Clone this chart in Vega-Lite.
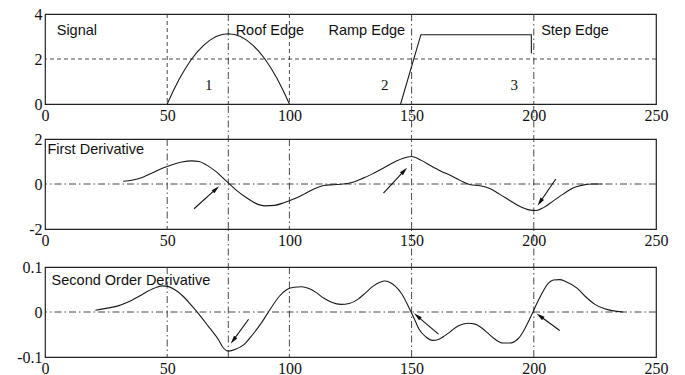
{
  "$schema": "https://vega.github.io/schema/vega-lite/v6.json",
  "background": "white",
  "padding": {"left": 16, "top": 5, "right": 5, "bottom": 2},
  "bounds": "flush",
  "spacing": 35,
  "config": {
    "font": "Liberation Serif",
    "view": {"stroke": "#222", "strokeWidth": 1.2},
    "axis": {"grid": false, "ticks": false, "domain": false, "labelFont": "Liberation Serif", "labelFontSize": 16, "labelColor": "#111", "labelPadding": 3, "labelFlush": false, "labelOverlap": false},
    "line": {"color": "#1a1a1a", "strokeWidth": 1.1},
    "rule": {"color": "#333", "strokeWidth": 0.9}
  },
  "vconcat": [
    {
      "width": 611,
      "height": 90,
      "layer": [
        {
          "data": {"values": [{"x": 50}, {"x": 100}]},
          "mark": {"type": "rule", "strokeDash": [4, 3]},
          "encoding": {
            "x": {"field": "x", "type": "quantitative", "scale": {"domain": [0, 250], "nice": false}, "axis": {"values": [0, 50, 100, 150, 200, 250]}, "title": null}
          }
        },
        {
          "data": {"values": [{"y": 2}]},
          "mark": {"type": "rule", "strokeDash": [4, 3]},
          "encoding": {
            "y": {"field": "y", "type": "quantitative", "scale": {"domain": [0, 4], "nice": false, "zero": false}, "axis": {"values": [0, 2, 4]}, "title": null}
          }
        },
        {
          "data": {"values": [{"x": 75}, {"x": 150}, {"x": 200}]},
          "mark": {"type": "rule", "strokeDash": [7, 3, 1.5, 3]},
          "encoding": {
            "x": {"field": "x", "type": "quantitative", "scale": {"domain": [0, 250], "nice": false}, "axis": {"values": [0, 50, 100, 150, 200, 250]}, "title": null}
          }
        },
        {
          "data": {"values": [
            {"seg": "roof", "k": 1, "x": 50, "y": 0},
            {"seg": "roof", "k": 2, "x": 52.5, "y": 0.59},
            {"seg": "roof", "k": 3, "x": 55, "y": 1.12},
            {"seg": "roof", "k": 4, "x": 57.5, "y": 1.59},
            {"seg": "roof", "k": 5, "x": 60, "y": 2.0},
            {"seg": "roof", "k": 6, "x": 62.5, "y": 2.34},
            {"seg": "roof", "k": 7, "x": 65, "y": 2.62},
            {"seg": "roof", "k": 8, "x": 67.5, "y": 2.84},
            {"seg": "roof", "k": 9, "x": 70, "y": 3.0},
            {"seg": "roof", "k": 10, "x": 72.5, "y": 3.09},
            {"seg": "roof", "k": 11, "x": 75, "y": 3.12},
            {"seg": "roof", "k": 12, "x": 77.5, "y": 3.09},
            {"seg": "roof", "k": 13, "x": 80, "y": 3.0},
            {"seg": "roof", "k": 14, "x": 82.5, "y": 2.84},
            {"seg": "roof", "k": 15, "x": 85, "y": 2.62},
            {"seg": "roof", "k": 16, "x": 87.5, "y": 2.34},
            {"seg": "roof", "k": 17, "x": 90, "y": 2.0},
            {"seg": "roof", "k": 18, "x": 92.5, "y": 1.59},
            {"seg": "roof", "k": 19, "x": 95, "y": 1.12},
            {"seg": "roof", "k": 20, "x": 97.5, "y": 0.59},
            {"seg": "roof", "k": 21, "x": 100, "y": 0},
            {"seg": "ramp", "k": 22, "x": 145.5, "y": 0},
            {"seg": "ramp", "k": 23, "x": 153.8, "y": 3.08},
            {"seg": "ramp", "k": 24, "x": 199, "y": 3.08},
            {"seg": "ramp", "k": 25, "x": 199, "y": 2.25}
          ]},
          "mark": {"type": "line", "interpolate": "linear"},
          "encoding": {
            "x": {"field": "x", "type": "quantitative", "scale": {"domain": [0, 250], "nice": false}, "axis": {"values": [0, 50, 100, 150, 200, 250]}, "title": null},
            "y": {"field": "y", "type": "quantitative", "scale": {"domain": [0, 4], "nice": false, "zero": false}, "axis": {"values": [0, 2, 4]}, "title": null},
            "detail": {"field": "seg"},
            "order": {"field": "k", "type": "quantitative"}
          }
        },
        {
          "data": {"values": [
            {"x": 4.8, "y": 3.08, "label": "Signal"},
            {"x": 78, "y": 3.08, "label": "Roof Edge"},
            {"x": 116, "y": 3.08, "label": "Ramp Edge"},
            {"x": 203, "y": 3.08, "label": "Step Edge"}
          ]},
          "mark": {"type": "text", "align": "left", "baseline": "alphabetic", "font": "Liberation Sans", "fontSize": 14.5, "color": "#111"},
          "encoding": {
            "x": {"field": "x", "type": "quantitative", "scale": {"domain": [0, 250], "nice": false}, "axis": {"values": [0, 50, 100, 150, 200, 250]}, "title": null},
            "y": {"field": "y", "type": "quantitative", "scale": {"domain": [0, 4], "nice": false, "zero": false}, "axis": {"values": [0, 2, 4]}, "title": null},
            "text": {"field": "label"}
          }
        },
        {
          "data": {"values": [
            {"x": 67, "y": 0.85, "label": "1"},
            {"x": 139, "y": 0.85, "label": "2"},
            {"x": 192, "y": 0.85, "label": "3"}
          ]},
          "mark": {"type": "text", "align": "center", "baseline": "middle", "font": "Liberation Serif", "fontSize": 15, "color": "#111"},
          "encoding": {
            "x": {"field": "x", "type": "quantitative", "scale": {"domain": [0, 250], "nice": false}, "axis": {"values": [0, 50, 100, 150, 200, 250]}, "title": null},
            "y": {"field": "y", "type": "quantitative", "scale": {"domain": [0, 4], "nice": false, "zero": false}, "axis": {"values": [0, 2, 4]}, "title": null},
            "text": {"field": "label"}
          }
        }
      ]
    },
    {
      "bounds": "flush",
      "spacing": 38,
      "vconcat": [
        {
          "width": 611,
          "height": 90,
          "layer": [
            {
              "data": {"values": [{"x": 50}, {"x": 100}]},
              "mark": {"type": "rule", "strokeDash": [7, 3, 1.5, 3]},
              "encoding": {
                "x": {"field": "x", "type": "quantitative", "scale": {"domain": [0, 250], "nice": false}, "axis": {"values": [0, 50, 100, 150, 200, 250]}, "title": null}
              }
            },
            {
              "data": {"values": [{"y": 0}]},
              "mark": {"type": "rule", "strokeDash": [7, 3, 1.5, 3]},
              "encoding": {
                "y": {"field": "y", "type": "quantitative", "scale": {"domain": [-2, 2], "nice": false, "zero": false}, "axis": {"values": [-2, 0, 2], "labelExpr": "'' + datum.value"}, "title": null}
              }
            },
            {
              "data": {"values": [{"x": 75, "y": -2, "y2": 3.56}, {"x": 150, "y": -2, "y2": 3.56}, {"x": 200, "y": -2, "y2": 3.56}]},
              "mark": {"type": "rule", "strokeDash": [7, 3, 1.5, 3]},
              "encoding": {
                "x": {"field": "x", "type": "quantitative", "scale": {"domain": [0, 250], "nice": false}, "axis": {"values": [0, 50, 100, 150, 200, 250]}, "title": null},
                "y": {"field": "y", "type": "quantitative", "scale": {"domain": [-2, 2], "nice": false, "zero": false}, "axis": {"values": [-2, 0, 2], "labelExpr": "'' + datum.value"}, "title": null},
                "y2": {"field": "y2"}
              }
            },
            {
              "data": {"values": [
                {"x": 32, "y": 0.12}, {"x": 36, "y": 0.18}, {"x": 40, "y": 0.3}, {"x": 44, "y": 0.5},
                {"x": 48, "y": 0.7}, {"x": 52, "y": 0.86}, {"x": 56, "y": 0.98}, {"x": 60, "y": 1.03},
                {"x": 63, "y": 1.0}, {"x": 66, "y": 0.85}, {"x": 70, "y": 0.55}, {"x": 74, "y": 0.15},
                {"x": 78, "y": -0.25}, {"x": 82, "y": -0.58}, {"x": 86, "y": -0.85}, {"x": 90, "y": -0.97},
                {"x": 94, "y": -0.95}, {"x": 98, "y": -0.82}, {"x": 102, "y": -0.66}, {"x": 106, "y": -0.45},
                {"x": 110, "y": -0.22}, {"x": 114, "y": -0.07}, {"x": 118, "y": -0.03}, {"x": 122, "y": 0.0},
                {"x": 126, "y": 0.08}, {"x": 130, "y": 0.25}, {"x": 134, "y": 0.45}, {"x": 138, "y": 0.68},
                {"x": 142, "y": 0.92}, {"x": 146, "y": 1.12}, {"x": 150, "y": 1.22}, {"x": 154, "y": 1.05},
                {"x": 158, "y": 0.8}, {"x": 162, "y": 0.57}, {"x": 166, "y": 0.38}, {"x": 170, "y": 0.15},
                {"x": 174, "y": -0.03}, {"x": 178, "y": -0.08}, {"x": 182, "y": -0.2}, {"x": 186, "y": -0.45},
                {"x": 190, "y": -0.72}, {"x": 194, "y": -0.98}, {"x": 198, "y": -1.15}, {"x": 201, "y": -1.18},
                {"x": 204, "y": -1.05}, {"x": 208, "y": -0.75}, {"x": 212, "y": -0.45}, {"x": 216, "y": -0.18},
                {"x": 220, "y": -0.05}, {"x": 224, "y": 0.0}, {"x": 228, "y": 0.0}
              ]},
              "mark": {"type": "line", "interpolate": "monotone"},
              "encoding": {
                "x": {"field": "x", "type": "quantitative", "scale": {"domain": [0, 250], "nice": false}, "axis": {"values": [0, 50, 100, 150, 200, 250]}, "title": null},
                "y": {"field": "y", "type": "quantitative", "scale": {"domain": [-2, 2], "nice": false, "zero": false}, "axis": {"values": [-2, 0, 2], "labelExpr": "'' + datum.value"}, "title": null}
              }
            },
            {
              "data": {"values": [
                {"x0": 61, "y0": -1.1, "x": 70, "y": -0.22},
                {"x0": 138.5, "y0": -0.41, "x": 147, "y": 0.59},
                {"x0": 209, "y0": 0.22, "x": 202.5, "y": -0.81}
              ]},
              "mark": {"type": "rule", "color": "#111", "strokeWidth": 1.1},
              "encoding": {
                "x": {"field": "x0", "type": "quantitative", "scale": {"domain": [0, 250], "nice": false}, "axis": {"values": [0, 50, 100, 150, 200, 250]}, "title": null},
                "y": {"field": "y0", "type": "quantitative", "scale": {"domain": [-2, 2], "nice": false, "zero": false}, "axis": {"values": [-2, 0, 2], "labelExpr": "'' + datum.value"}, "title": null},
                "x2": {"field": "x"},
                "y2": {"field": "y"}
              }
            },
            {
              "data": {"values": [
                {"x": 70, "y": -0.22, "heading": 48},
                {"x": 147, "y": 0.59, "heading": 43},
                {"x": 202.5, "y": -0.81, "heading": 214}
              ]},
              "mark": {"type": "point", "shape": "M0,-1L0.5,1L-0.5,1Z", "filled": true, "fill": "#111", "stroke": null, "size": 70, "opacity": 1},
              "encoding": {
                "x": {"field": "x", "type": "quantitative", "scale": {"domain": [0, 250], "nice": false}, "axis": {"values": [0, 50, 100, 150, 200, 250]}, "title": null},
                "y": {"field": "y", "type": "quantitative", "scale": {"domain": [-2, 2], "nice": false, "zero": false}, "axis": {"values": [-2, 0, 2], "labelExpr": "'' + datum.value"}, "title": null},
                "angle": {"field": "heading", "type": "quantitative", "scale": null}
              }
            },
            {
              "data": {"values": [{"x": 1, "y": 1.33, "label": "First Derivative"}]},
              "mark": {"type": "text", "align": "left", "baseline": "alphabetic", "font": "Liberation Sans", "fontSize": 14.5, "color": "#111"},
              "encoding": {
                "x": {"field": "x", "type": "quantitative", "scale": {"domain": [0, 250], "nice": false}, "axis": {"values": [0, 50, 100, 150, 200, 250]}, "title": null},
                "y": {"field": "y", "type": "quantitative", "scale": {"domain": [-2, 2], "nice": false, "zero": false}, "axis": {"values": [-2, 0, 2], "labelExpr": "'' + datum.value"}, "title": null},
                "text": {"field": "label"}
              }
            }
          ]
        },
        {
          "width": 611,
          "height": 90,
          "layer": [
            {
              "data": {"values": [{"x": 50}, {"x": 100}]},
              "mark": {"type": "rule", "strokeDash": [7, 3, 1.5, 3]},
              "encoding": {
                "x": {"field": "x", "type": "quantitative", "scale": {"domain": [0, 250], "nice": false}, "axis": {"values": [0, 50, 100, 150, 200, 250]}, "title": null}
              }
            },
            {
              "data": {"values": [{"y": 0}]},
              "mark": {"type": "rule", "strokeDash": [7, 3, 1.5, 3]},
              "encoding": {
                "y": {"field": "y", "type": "quantitative", "scale": {"domain": [-0.1, 0.1], "nice": false, "zero": false}, "axis": {"values": [-0.1, 0, 0.1], "labelExpr": "'' + datum.value"}, "title": null}
              }
            },
            {
              "data": {"values": [{"x": 75, "y": -0.1, "y2": 0.185}, {"x": 150, "y": -0.1, "y2": 0.185}, {"x": 200, "y": -0.1, "y2": 0.185}]},
              "mark": {"type": "rule", "strokeDash": [7, 3, 1.5, 3]},
              "encoding": {
                "x": {"field": "x", "type": "quantitative", "scale": {"domain": [0, 250], "nice": false}, "axis": {"values": [0, 50, 100, 150, 200, 250]}, "title": null},
                "y": {"field": "y", "type": "quantitative", "scale": {"domain": [-0.1, 0.1], "nice": false, "zero": false}, "axis": {"values": [-0.1, 0, 0.1], "labelExpr": "'' + datum.value"}, "title": null},
                "y2": {"field": "y2"}
              }
            },
            {
              "data": {"values": [
                {"x": 20.6, "y": 0.004}, {"x": 25, "y": 0.008}, {"x": 29.6, "y": 0.013}, {"x": 34, "y": 0.022},
                {"x": 38.5, "y": 0.035}, {"x": 42, "y": 0.046}, {"x": 45.7, "y": 0.055}, {"x": 48, "y": 0.058},
                {"x": 50.2, "y": 0.057}, {"x": 53, "y": 0.05}, {"x": 56.5, "y": 0.035}, {"x": 60, "y": 0.014},
                {"x": 63.6, "y": -0.009}, {"x": 67, "y": -0.033}, {"x": 70.8, "y": -0.06}, {"x": 73, "y": -0.08},
                {"x": 75, "y": -0.087}, {"x": 78, "y": -0.083}, {"x": 81.5, "y": -0.072}, {"x": 85, "y": -0.05},
                {"x": 88.7, "y": -0.023}, {"x": 92, "y": 0.005}, {"x": 95.9, "y": 0.035}, {"x": 99, "y": 0.05},
                {"x": 102, "y": 0.055}, {"x": 105, "y": 0.056}, {"x": 108, "y": 0.052}, {"x": 111, "y": 0.043},
                {"x": 114, "y": 0.031}, {"x": 117.5, "y": 0.021}, {"x": 121, "y": 0.017}, {"x": 124.5, "y": 0.019},
                {"x": 128, "y": 0.028}, {"x": 131, "y": 0.042}, {"x": 134.4, "y": 0.058}, {"x": 137, "y": 0.066},
                {"x": 139, "y": 0.069}, {"x": 141, "y": 0.066}, {"x": 143.4, "y": 0.057}, {"x": 146, "y": 0.04},
                {"x": 149.6, "y": 0.002}, {"x": 151.5, "y": -0.02}, {"x": 153, "y": -0.038}, {"x": 156, "y": -0.056},
                {"x": 158.6, "y": -0.063}, {"x": 161, "y": -0.061}, {"x": 163.5, "y": -0.053}, {"x": 166, "y": -0.043},
                {"x": 169, "y": -0.031}, {"x": 173, "y": -0.025}, {"x": 176, "y": -0.027}, {"x": 178.3, "y": -0.034},
                {"x": 181, "y": -0.046}, {"x": 184, "y": -0.06}, {"x": 187.3, "y": -0.069}, {"x": 190, "y": -0.069},
                {"x": 193.5, "y": -0.06}, {"x": 195.5, "y": -0.045}, {"x": 197, "y": -0.03}, {"x": 199, "y": -0.008},
                {"x": 200.7, "y": 0.013}, {"x": 203, "y": 0.038}, {"x": 206, "y": 0.064}, {"x": 208, "y": 0.071},
                {"x": 210.6, "y": 0.072}, {"x": 213, "y": 0.068}, {"x": 217.7, "y": 0.053}, {"x": 221, "y": 0.035},
                {"x": 225, "y": 0.017}, {"x": 229, "y": 0.007}, {"x": 232, "y": 0.003}, {"x": 236.6, "y": 0.0}
              ]},
              "mark": {"type": "line", "interpolate": "monotone"},
              "encoding": {
                "x": {"field": "x", "type": "quantitative", "scale": {"domain": [0, 250], "nice": false}, "axis": {"values": [0, 50, 100, 150, 200, 250]}, "title": null},
                "y": {"field": "y", "type": "quantitative", "scale": {"domain": [-0.1, 0.1], "nice": false, "zero": false}, "axis": {"values": [-0.1, 0, 0.1], "labelExpr": "'' + datum.value"}, "title": null}
              }
            },
            {
              "data": {"values": [
                {"x0": 83.3, "y0": -0.016, "x": 77, "y": -0.063},
                {"x0": 161, "y0": -0.049, "x": 152.3, "y": -0.009},
                {"x0": 210.6, "y0": -0.041, "x": 202.5, "y": -0.009}
              ]},
              "mark": {"type": "rule", "color": "#111", "strokeWidth": 1.1},
              "encoding": {
                "x": {"field": "x0", "type": "quantitative", "scale": {"domain": [0, 250], "nice": false}, "axis": {"values": [0, 50, 100, 150, 200, 250]}, "title": null},
                "y": {"field": "y0", "type": "quantitative", "scale": {"domain": [-0.1, 0.1], "nice": false, "zero": false}, "axis": {"values": [-0.1, 0, 0.1], "labelExpr": "'' + datum.value"}, "title": null},
                "x2": {"field": "x"},
                "y2": {"field": "y"}
              }
            },
            {
              "data": {"values": [
                {"x": 77, "y": -0.063, "heading": 216},
                {"x": 152.3, "y": -0.009, "heading": 310},
                {"x": 202.5, "y": -0.009, "heading": 306}
              ]},
              "mark": {"type": "point", "shape": "M0,-1L0.5,1L-0.5,1Z", "filled": true, "fill": "#111", "stroke": null, "size": 70, "opacity": 1},
              "encoding": {
                "x": {"field": "x", "type": "quantitative", "scale": {"domain": [0, 250], "nice": false}, "axis": {"values": [0, 50, 100, 150, 200, 250]}, "title": null},
                "y": {"field": "y", "type": "quantitative", "scale": {"domain": [-0.1, 0.1], "nice": false, "zero": false}, "axis": {"values": [-0.1, 0, 0.1], "labelExpr": "'' + datum.value"}, "title": null},
                "angle": {"field": "heading", "type": "quantitative", "scale": null}
              }
            },
            {
              "data": {"values": [{"x": 2.7, "y": 0.06, "label": "Second Order Derivative"}]},
              "mark": {"type": "text", "align": "left", "baseline": "alphabetic", "font": "Liberation Sans", "fontSize": 14.5, "color": "#111"},
              "encoding": {
                "x": {"field": "x", "type": "quantitative", "scale": {"domain": [0, 250], "nice": false}, "axis": {"values": [0, 50, 100, 150, 200, 250]}, "title": null},
                "y": {"field": "y", "type": "quantitative", "scale": {"domain": [-0.1, 0.1], "nice": false, "zero": false}, "axis": {"values": [-0.1, 0, 0.1], "labelExpr": "'' + datum.value"}, "title": null},
                "text": {"field": "label"}
              }
            }
          ]
        }
      ]
    }
  ]
}
